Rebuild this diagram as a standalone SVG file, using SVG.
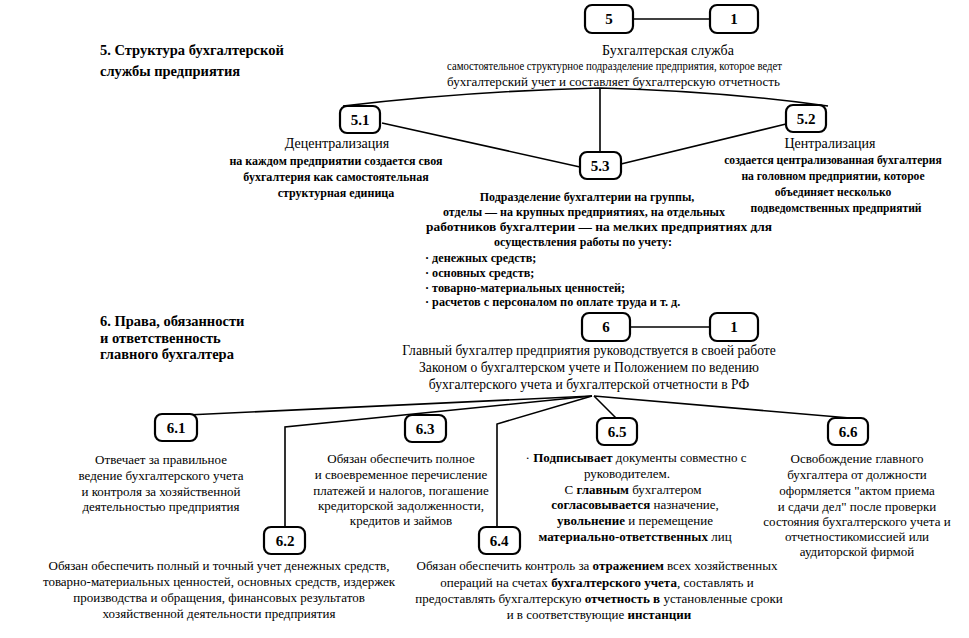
<svg xmlns="http://www.w3.org/2000/svg" width="969" height="638" viewBox="0 0 969 638">
<style>
.bg{fill:#fff}
.box{fill:#fff;stroke:#000;stroke-width:2.2}
.lbl{font-family:"Liberation Serif",serif;font-weight:bold;font-size:15px;text-anchor:middle;fill:#000}
.ttl{font-family:"Liberation Serif",serif;font-weight:bold;font-size:14.5px;fill:#000}
.h{font-family:"Liberation Serif",serif;font-size:14px;text-anchor:middle;fill:#000}
.g{font-family:"Liberation Serif",serif;font-size:13.6px;text-anchor:middle;fill:#000}
.d{font-family:"Liberation Serif",serif;font-weight:bold;font-size:12px;text-anchor:middle;fill:#000}
.d2{font-family:"Liberation Serif",serif;font-weight:bold;font-size:11.6px;text-anchor:middle;fill:#000}
.t{font-family:"Liberation Serif",serif;font-size:13px;text-anchor:middle;fill:#000}
.s{font-family:"Liberation Serif",serif;font-size:12px;fill:#000}
.l{font-family:"Liberation Serif",serif;font-weight:bold;font-size:12.2px;fill:#000}
.c{fill:none;stroke:#000;stroke-width:1.6}
</style>
<rect class="bg" x="0" y="0" width="969" height="638"/>
<g id="connectors">
<line class="c" x1="633" y1="19" x2="710" y2="19"/>
<path class="c" d="M343,106 Q470,91 600,88 Q720,91 828,106"/>
<line class="c" x1="600" y1="88" x2="600" y2="152"/>
<line class="c" x1="382" y1="123" x2="580" y2="167"/>
<line class="c" x1="621" y1="164" x2="786" y2="124"/>
<line class="c" x1="630" y1="327" x2="710" y2="327"/>
<line class="c" x1="187" y1="415" x2="592" y2="396"/>
<polyline class="c" points="285,527 285,427 592,396"/>
<polyline class="c" points="497,527 497,424 592,396"/>
<line class="c" x1="594" y1="396" x2="616" y2="418"/>
<line class="c" x1="594" y1="396" x2="850" y2="418"/>
</g>
<g id="title5">
<text class="ttl" x="100" y="55">5. Структура бухгалтерской</text>
<text class="ttl" x="100" y="76">службы предприятия</text>
</g>
<g id="n5"><rect class="box" x="585" y="5" width="48" height="28" rx="7"/><text class="lbl" x="609" y="24">5</text></g>
<g id="n1a"><rect class="box" x="710" y="5" width="48" height="28" rx="7"/><text class="lbl" x="734" y="24">1</text></g>
<g id="t5">
<text class="h" x="668" y="55">Бухгалтерская служба</text>
<text class="s" x="447" y="70" textLength="335" lengthAdjust="spacingAndGlyphs">самостоятельное структурное подразделение предприятия, которое ведет</text>
<text class="s" x="447" y="86" textLength="333" lengthAdjust="spacingAndGlyphs">бухгалтерский учет и составляет бухгалтерскую отчетность</text>
</g>
<g id="n51"><rect class="box" x="340" y="106" width="40" height="27" rx="7"/><text class="lbl" x="360" y="125">5.1</text>
<text class="h" x="337" y="148">Децентрализация</text>
<text class="d" x="336" y="165">на каждом предприятии создается своя</text>
<text class="d" x="336" y="181">бухгалтерия как самостоятельная</text>
<text class="d" x="336" y="197">структурная единица</text>
</g>
<g id="n52"><rect class="box" x="786" y="105" width="40" height="27" rx="7"/><text class="lbl" x="806" y="124">5.2</text>
<text class="h" x="830" y="148">Централизация</text>
<text class="d2" x="833" y="164">создается централизованная бухгалтерия</text>
<text class="d2" x="833" y="180">на головном предприятии, которое</text>
<text class="d2" x="833" y="196">объединяет несколько</text>
<text class="d2" x="836" y="212">подведомственных предприятий</text>
</g>
<g id="n53"><rect class="box" x="580" y="152" width="41" height="27" rx="7"/><text class="lbl" x="600" y="171">5.3</text>
<text class="d" x="587" y="201">Подразделение бухгалтерии на группы,</text>
<text class="d" x="584" y="216">отделы — на крупных предприятиях, на отдельных</text>
<text class="d" x="426" y="231" style="text-anchor:start" textLength="346" lengthAdjust="spacingAndGlyphs">работников бухгалтерии  — на мелких предприятиях для</text>
<text class="d" x="583" y="246">осуществления работы по учету:</text>
<text class="l" x="425" y="262">· денежных средств;</text>
<text class="l" x="425" y="277">· основных средств;</text>
<text class="l" x="425" y="292">· товарно-материальных ценностей;</text>
<text class="l" x="425" y="306">· расчетов с персоналом по оплате труда и т. д.</text>
</g>
<g id="title6">
<text class="ttl" x="100" y="326">6. Права, обязанности</text>
<text class="ttl" x="100" y="343">и ответственность</text>
<text class="ttl" x="100" y="359">главного бухгалтера</text>
</g>
<g id="n6"><rect class="box" x="582" y="313" width="48" height="28" rx="7"/><text class="lbl" x="606" y="332">6</text></g>
<g id="n1b"><rect class="box" x="710" y="313" width="48" height="28" rx="7"/><text class="lbl" x="734" y="332">1</text></g>
<g id="t6">
<text class="g" x="589" y="355">Главный бухгалтер предприятия руководствуется в своей работе</text>
<text class="g" x="589" y="372">Законом о бухгалтерском учете и Положением по ведению</text>
<text class="g" x="589" y="389">бухгалтерского учета и бухгалтерской отчетности в РФ</text>
</g>
<g id="n61"><rect class="box" x="155" y="414" width="42" height="27" rx="7"/><text class="lbl" x="176" y="433">6.1</text>
<text class="t" x="161" y="464">Отвечает за правильное</text>
<text class="t" x="161" y="480">ведение бухгалтерского учета</text>
<text class="t" x="161" y="496">и контроля за хозяйственной</text>
<text class="t" x="161" y="511">деятельностью предприятия</text>
</g>
<g id="n62"><rect class="box" x="264" y="527" width="41" height="27" rx="7"/><text class="lbl" x="285" y="546">6.2</text>
<text class="t" x="219" y="570">Обязан обеспечить полный и точный учет денежных средств,</text>
<text class="t" x="219" y="586">товарно-материальных ценностей, основных средств, издержек</text>
<text class="t" x="219" y="602">производства и обращения, финансовых результатов</text>
<text class="t" x="219" y="618">хозяйственной деятельности предприятия</text>
</g>
<g id="n63"><rect class="box" x="405" y="415" width="41" height="27" rx="7"/><text class="lbl" x="425" y="434">6.3</text>
<text class="t" x="401" y="463">Обязан обеспечить полное</text>
<text class="t" x="401" y="479">и своевременное перечисление</text>
<text class="t" x="401" y="495">платежей и налогов, погашение</text>
<text class="t" x="401" y="510">кредиторской задолженности,</text>
<text class="t" x="401" y="525">кредитов и займов</text>
</g>
<g id="n64"><rect class="box" x="479" y="527" width="41" height="27" rx="7"/><text class="lbl" x="499" y="546">6.4</text>
<text class="t" x="597" y="570">Обязан обеспечить контроль за <tspan font-weight="bold">отражением</tspan> всех хозяйственных</text>
<text class="t" x="597" y="587">операций на счетах <tspan font-weight="bold">бухгалтерского учета</tspan>, составлять и</text>
<text class="t" x="599" y="603">предоставлять бухгалтерскую <tspan font-weight="bold">отчетность в</tspan> установленные сроки</text>
<text class="t" x="599" y="619">и в соответствующие <tspan font-weight="bold">инстанции</tspan></text>
</g>
<g id="n65"><rect class="box" x="597" y="418" width="40" height="27" rx="7"/><text class="lbl" x="617" y="437">6.5</text>
<text class="t" x="636" y="462">· <tspan font-weight="bold">Подписывает</tspan> документы совместно с</text>
<text class="t" x="627" y="478">руководителем.</text>
<text class="t" x="633" y="494">С <tspan font-weight="bold">главным</tspan> бухгалтером</text>
<text class="t" x="635" y="509"><tspan font-weight="bold">согласовывается</tspan> назначение,</text>
<text class="t" x="635" y="525"><tspan font-weight="bold">увольнение</tspan> и перемещение</text>
<text class="t" x="635" y="541"><tspan font-weight="bold">материально-ответственных</tspan> лиц</text>
</g>
<g id="n66"><rect class="box" x="828" y="418" width="40" height="27" rx="7"/><text class="lbl" x="848" y="437">6.6</text>
<text class="t" x="857" y="463">Освобождение главного</text>
<text class="t" x="857" y="479">бухгалтера от должности</text>
<text class="t" x="857" y="495">оформляется "актом приема</text>
<text class="t" x="857" y="511">и сдачи дел" после проверки</text>
<text class="t" x="857" y="526">состояния бухгалтерского учета и</text>
<text class="t" x="857" y="541">отчетностикомиссией или</text>
<text class="t" x="857" y="556">аудиторской фирмой</text>
</g>
</svg>
